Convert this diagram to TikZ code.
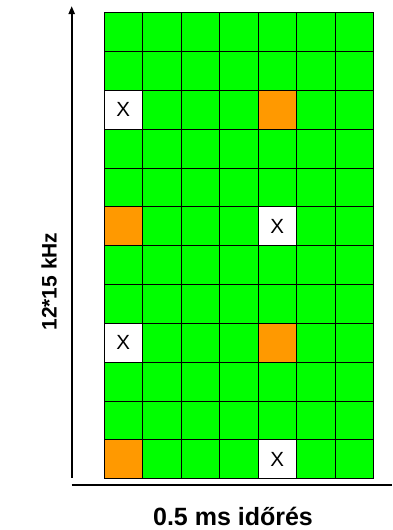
\documentclass[tikz,border=0pt]{standalone}
\usepackage{fontspec}
\setmainfont{Liberation Sans}
\usepackage{tikz}
\usetikzlibrary{arrows.meta,positioning}
\definecolor{rbgreen}{HTML}{00FF00}
\definecolor{pilotorange}{HTML}{FF9900}

\begin{document}
\begin{tikzpicture}[x=1pt,y=-1pt,cell/.style={draw=black,line width=0.9pt,minimum width=38.5pt,minimum height=38.83pt,inner sep=0pt,anchor=north west,font=\fontsize{20.5}{24}\selectfont},datacell/.style={cell,fill=rbgreen},pilotcell/.style={cell,fill=pilotorange},emptycell/.style={cell,fill=white,execute at begin node={X}},axis/.style={line width=2pt,black},lbl/.style={font=\fontsize{21}{25}\selectfont\bfseries}]
\useasboundingbox (0,0) rectangle (392,530);
% resource grid: 12 subcarriers x 7 symbols
\foreach \r/\ka/\kb in {1/datacell/datacell,2/datacell/datacell,3/emptycell/pilotcell,4/datacell/datacell,5/datacell/datacell,6/pilotcell/emptycell,7/datacell/datacell,8/datacell/datacell,9/emptycell/pilotcell,10/datacell/datacell,11/datacell/datacell,12/pilotcell/emptycell}{
  \foreach \c in {1,...,7}{
    \let\kind\ka \ifnum\c=1\else\ifnum\c=5 \let\kind\kb\else\def\kind{datacell}\fi\fi
    \node[\kind] (c\r-\c) at ({103.5+38.5*(\c-1)},{12.3+38.83*(\r-1)}) {};
  }
}
\coordinate (ybot) at (71.7,477.5); \coordinate (ytop) at (71.7,6);
\coordinate (xleft) at (71.7,484.5); \coordinate (xright) at (392,484.5);
\draw[axis,-{Triangle[length=8pt,width=6pt]}] (ybot)--(ytop);
\draw[axis] (xleft)--(xright);
\node[lbl,rotate=90,anchor=base] (flab) at (56.7,281.5) {12*15 kHz};
\node[lbl,anchor=base,font=\fontsize{25}{30}\selectfont\bfseries] (tlab) at (233,525) {0.5 ms időrés};
\end{tikzpicture}
\end{document}
